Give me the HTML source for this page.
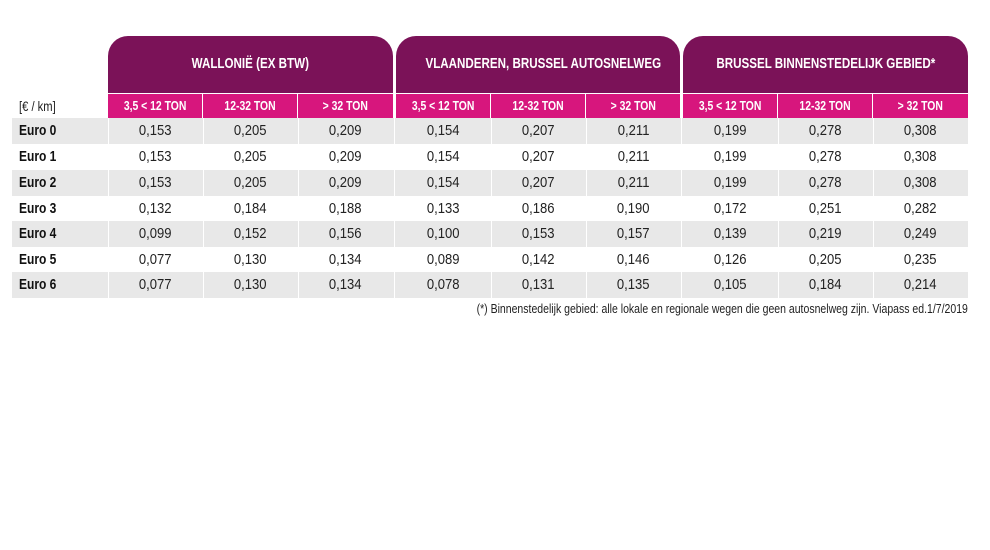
<!DOCTYPE html>
<html><head><meta charset="utf-8"><style>
body{margin:0;width:990px;height:550px;background:#fff;position:relative;overflow:hidden;font-family:"Liberation Sans",sans-serif;}
.a{position:absolute;white-space:nowrap;}
.k{display:inline-block;transform:scaleX(.8);transform-origin:center;}
.h{background:#7b1258;color:#fff;border-radius:20px 20px 0 0;top:36px;height:57px;font-weight:bold;font-size:14.5px;text-align:center;line-height:57px;}
.s{background:#d7167d;color:#fff;top:94px;height:24px;line-height:24px;font-size:13px;font-weight:bold;text-align:center;width:94px;}
.r{left:12px;width:956px;height:26px;}
.g{background:#e8e8e8;}
.c{width:95px;text-align:center;font-size:14.5px;color:#222;height:26px;line-height:26px;}
.l{left:19px;font-weight:bold;font-size:15px;color:#111;height:26px;line-height:26px;}
.l .k{transform-origin:left;}
.v{width:1px;background:#fff;top:118px;height:180px;}
</style></head><body>
<div class="a h" style="left:108px;width:285px"><span class="k">WALLONIË (EX BTW)</span></div>
<div class="a h" style="left:396px;width:284px"><span class="k">VLAANDEREN, BRUSSEL AUTOSNELWEG</span></div>
<div class="a h" style="left:683px;width:285px"><span class="k">BRUSSEL BINNENSTEDELIJK GEBIED*</span></div>
<div class="a" style="left:19px;top:94px;line-height:24px;font-size:14px;color:#222"><span class="k" style="transform-origin:left">[€ / km]</span></div>
<div class="a s" style="left:108px"><span class="k">3,5 &lt; 12 TON</span></div>
<div class="a s" style="left:203px"><span class="k">12-32 TON</span></div>
<div class="a s" style="left:298px;width:95px"><span class="k">&gt; 32 TON</span></div>
<div class="a s" style="left:396px"><span class="k">3,5 &lt; 12 TON</span></div>
<div class="a s" style="left:491px"><span class="k">12-32 TON</span></div>
<div class="a s" style="left:586px"><span class="k">&gt; 32 TON</span></div>
<div class="a s" style="left:683px"><span class="k">3,5 &lt; 12 TON</span></div>
<div class="a s" style="left:778px"><span class="k">12-32 TON</span></div>
<div class="a s" style="left:873px;width:95px"><span class="k">&gt; 32 TON</span></div>
<div class="a r g" style="top:118px"></div>
<div class="a r g" style="top:170px"></div>
<div class="a r g" style="top:221px"></div>
<div class="a r g" style="top:272px"></div>
<div class="a v" style="left:108px"></div><div class="a v" style="left:203px"></div><div class="a v" style="left:298px"></div><div class="a v" style="left:394px"></div><div class="a v" style="left:491px"></div><div class="a v" style="left:586px"></div><div class="a v" style="left:681px"></div><div class="a v" style="left:778px"></div><div class="a v" style="left:873px"></div>
<div id="t"></div>
<script>
var d=[["Euro 0","0,153","0,205","0,209","0,154","0,207","0,211","0,199","0,278","0,308"],
["Euro 1","0,153","0,205","0,209","0,154","0,207","0,211","0,199","0,278","0,308"],
["Euro 2","0,153","0,205","0,209","0,154","0,207","0,211","0,199","0,278","0,308"],
["Euro 3","0,132","0,184","0,188","0,133","0,186","0,190","0,172","0,251","0,282"],
["Euro 4","0,099","0,152","0,156","0,100","0,153","0,157","0,139","0,219","0,249"],
["Euro 5","0,077","0,130","0,134","0,089","0,142","0,146","0,126","0,205","0,235"],
["Euro 6","0,077","0,130","0,134","0,078","0,131","0,135","0,105","0,184","0,214"]];
var xs=[108,203,298,396,491,586,683,778,873],ys=[118,144,170,196,221,247,272],h="";
d.forEach(function(r,i){h+='<div class="a l" style="top:'+ys[i]+'px"><span class="k">'+r[0]+'</span></div>';
for(var j=1;j<10;j++)h+='<div class="a c" style="left:'+xs[j-1]+'px;top:'+ys[i]+'px"><span class="k" style="transform:scaleX(.9)">'+r[j]+'</span></div>';});
document.getElementById("t").innerHTML=h;
</script>
<div class="a" style="right:22px;top:302px;font-size:12.5px;color:#222"><span class="k" style="transform:scaleX(.84);transform-origin:right">(*) Binnenstedelijk gebied: alle lokale en regionale wegen die geen autosnelweg zijn. Viapass ed.1/7/2019</span></div>
</body></html>
